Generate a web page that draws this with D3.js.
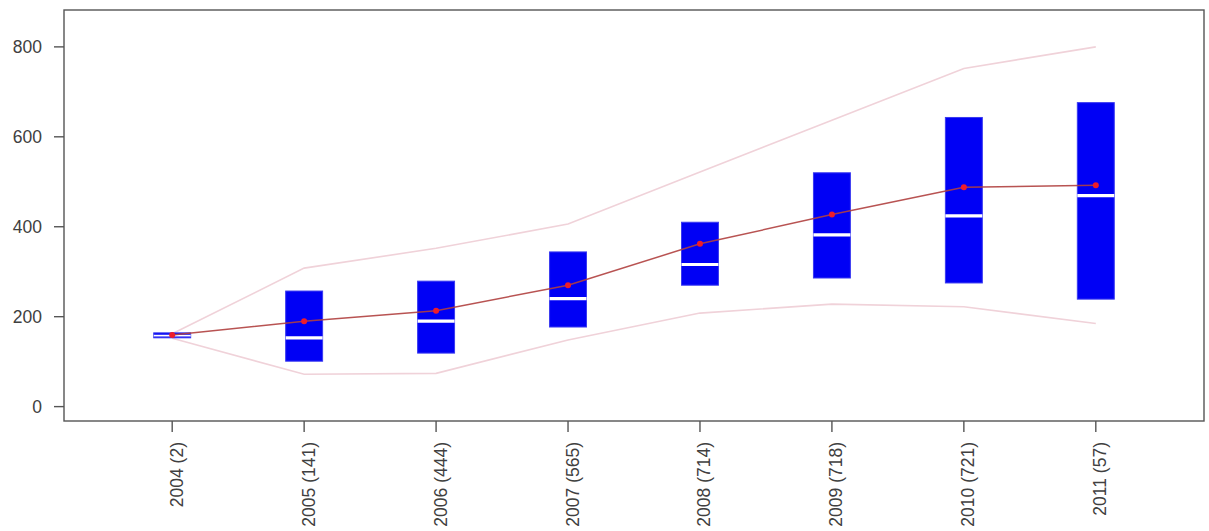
<!DOCTYPE html>
<html>
<head>
<meta charset="utf-8">
<script src="https://cdn.jsdelivr.net/npm/d3@7"></script>
<style>
  html, body { margin: 0; padding: 0; background: #fff; }
  svg { display: block; }
  text { font-family: "Liberation Sans", Arial, sans-serif; fill: #404040; }
</style>
</head>
<body>
<svg id="chart" width="1209" height="531"></svg>
<script>
// ---- data ----
const categories = ["2004 (2)", "2005 (141)", "2006 (444)", "2007 (565)", "2008 (714)", "2009 (718)", "2010 (721)", "2011 (57)"];
const q1     = [153, 101, 119, 177, 270, 286, 275, 239];
const median = [158, 153, 190, 240, 316, 382, 424, 469];
const q3     = [164, 257, 279, 344, 410, 520, 643, 676];
const means  = [159, 190, 213, 270, 362, 427, 488, 492];
const upperBand = [162, 308, 352, 406, 522, 637, 752, 800];
const lowerBand = [152, 72, 74, 148, 208, 228, 222, 185];
const yTicks = [0, 200, 400, 600, 800];

// ---- layout ----
const svg = d3.select("#chart");
const mLeft = 64, mRight = 1204, mTop = 10, mBottom = 421;

const x = d3.scaleLinear().domain([0.18, 8.82]).range([mLeft, mRight]);
const y = d3.scaleLinear().domain([-32, 882]).range([mBottom, mTop]);
const pos = i => x(i + 1);
const boxW = x(1.28) - x(1);

// pink envelope lines
const lineGen = d3.line().x((d, i) => pos(i)).y(d => y(d));
svg.append("path").datum(upperBand).attr("d", lineGen)
  .attr("fill", "none").attr("stroke", "#f0d2d9").attr("stroke-width", 1.6);
svg.append("path").datum(lowerBand).attr("d", lineGen)
  .attr("fill", "none").attr("stroke", "#f0d2d9").attr("stroke-width", 1.6);

// boxes
const g = svg.append("g");
categories.forEach((c, i) => {
  g.append("rect")
    .attr("x", pos(i) - boxW / 2)
    .attr("y", y(q3[i]))
    .attr("width", boxW)
    .attr("height", y(q1[i]) - y(q3[i]))
    .attr("fill", "#0000f5")
    .attr("stroke", "#3a3af0")
    .attr("stroke-width", 1);
  g.append("line")
    .attr("x1", pos(i) - boxW / 2).attr("x2", pos(i) + boxW / 2)
    .attr("y1", y(median[i])).attr("y2", y(median[i]))
    .attr("stroke", "#ffffff").attr("stroke-width", i === 0 ? 1.8 : 3.2);
});

// mean line and points
svg.append("path").datum(means).attr("d", lineGen)
  .attr("fill", "none").attr("stroke", "#b0403f").attr("stroke-width", 1.5).attr("opacity", 0.9);
svg.selectAll("circle.mean").data(means).enter().append("circle")
  .attr("class", "mean")
  .attr("cx", (d, i) => pos(i)).attr("cy", d => y(d))
  .attr("r", 3).attr("fill", "#ee1c2a");

// frame
svg.append("rect")
  .attr("x", mLeft).attr("y", mTop)
  .attr("width", mRight - mLeft).attr("height", mBottom - mTop)
  .attr("fill", "none").attr("stroke", "#555").attr("stroke-width", 1.4);

// y axis
const yAxis = svg.append("g");
yTicks.forEach(t => {
  yAxis.append("line").attr("x1", mLeft - 10).attr("x2", mLeft)
    .attr("y1", y(t)).attr("y2", y(t)).attr("stroke", "#555").attr("stroke-width", 1.4);
  yAxis.append("text").attr("x", mLeft - 22).attr("y", y(t))
    .attr("text-anchor", "end").attr("dominant-baseline", "central")
    .attr("font-size", "17.5px").text(t);
});

// x axis
const xAxis = svg.append("g");
categories.forEach((c, i) => {
  xAxis.append("line").attr("x1", pos(i)).attr("x2", pos(i))
    .attr("y1", mBottom).attr("y2", mBottom + 11).attr("stroke", "#555").attr("stroke-width", 1.4);
  xAxis.append("text")
    .attr("transform", `translate(${pos(i)},${mBottom + 21}) rotate(-90)`)
    .attr("x", 0).attr("y", 0).attr("dy", "0.6em")
    .attr("text-anchor", "end")
    .attr("font-size", "17.5px").text(c);
});
</script>
</body>
</html>
